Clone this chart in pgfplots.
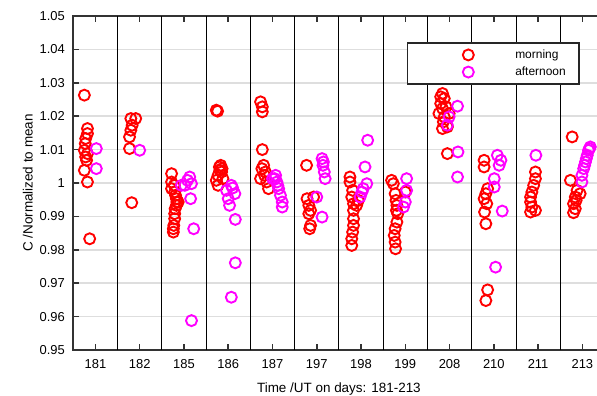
\documentclass[border=0pt]{standalone}
\usepackage{pgfplots}
\pgfplotsset{compat=1.18}
\usepackage{fontspec}
\setmainfont{Liberation Sans}
\definecolor{mred}{RGB}{255,0,0}
\definecolor{mmag}{RGB}{255,0,255}
\begin{document}
\begin{tikzpicture}
\begin{axis}[
  name=ax,
  scale only axis,
  width=531.2bp, height=334bp,
  xmin=-0.5, xmax=11.5,
  ymin=0.95, ymax=1.05,
  xtick={0,1,2,3,4,5,6,7,8,9,10,11},
  xticklabels={181,182,185,186,187,197,198,199,208,210,211,213},
  ytick={0.95,0.96,0.97,0.98,0.99,1,1.01,1.02,1.03,1.04,1.05},
  yticklabels={0.95,0.96,0.97,0.98,0.99,1,1.01,1.02,1.03,1.04,1.05},
  ytick pos=left,
  tick align=inside,
  major tick length=6bp,
  tick style={black!80, line width=1.6bp},
  axis line style={black!80, line width=1.8bp},
  ymajorgrids,
  major grid style={black!13, line width=1.6bp},
  extra x ticks={0.5,1.5,2.5,3.5,4.5,5.5,6.5,7.5,8.5,9.5,10.5},
  extra x tick labels={},
  extra x tick style={grid=major, major tick length=0pt, major grid style={black, line width=0.9bp}},
  tick label style={font=\fontsize{13}{15}\selectfont},
  xticklabel style={yshift=-6bp},
  yticklabel style={xshift=-5bp},
  label style={font=\fontsize{13.5}{16}\selectfont},
  xlabel={Time /UT on days: 181-213},
  xlabel style={yshift=-7bp},
  ylabel={C /Normalized to mean},
  legend style={at={(0.954,0.922)}, anchor=north east, draw=black!85, line width=1.6bp,
    font=\fontsize{12}{14}\selectfont, inner xsep=0pt, inner ysep=5bp, row sep=3bp},
  legend cell align=left,
  legend image code/.code={\path (-60bp,0) (44bp,0); \draw[#1] plot coordinates {(0bp,0bp)};},
  every axis plot/.append style={only marks, mark=o, mark size=5.5bp, line width=1.9bp, mark options={line width=1.9bp}},
]
\addplot[mred] coordinates {
(-0.25,1.0263) (-0.18,1.0163) (-0.18,1.0148) (-0.22,1.0133) (-0.23,1.0118) (-0.25,1.0098) (-0.18,1.0088) (-0.22,1.0078) (-0.2,1.0068) (-0.25,1.0038) (-0.18,1.0003) (-0.13,0.9833)
(0.80,1.0193) (0.91,1.0193) (0.83,1.0173) (0.80,1.0158) (0.77,1.0138) (0.77,1.0103) (0.82,0.9941)
(1.72,1.0028) (1.72,1.0003) (1.78,0.9993) (1.79,0.9973) (1.83,0.9953) (1.83,0.9933) (1.79,0.9908) (1.79,0.9893) (1.77,0.9873) (1.76,0.9853) (1.87,0.9943) (1.72,0.9983) (1.81,0.9963) (1.84,0.9943) (1.80,0.9923) (1.76,0.9863)
(2.73,1.0218) (2.76,1.0215) (2.83,1.0053) (2.81,1.0038) (2.77,1.0023) (2.73,1.0008) (2.77,0.9993) (2.85,1.0033) (2.88,1.0013) (2.80,1.0048) (2.86,1.0043)
(3.73,1.0243) (3.77,1.0228) (3.77,1.0213) (3.77,1.0100) (3.80,1.0053) (3.73,1.0013) (3.84,1.0033) (3.91,0.9983) (3.76,1.0043) (3.82,1.0023) (3.87,1.0003)
(4.77,1.0053) (4.78,0.9953) (4.82,0.9933) (4.86,0.9918) (4.82,0.9908) (4.86,0.9873) (4.93,0.9958) (4.84,0.9863)
(5.75,1.0018) (5.75,1.0003) (5.79,0.9958) (5.83,0.9938) (5.83,0.9918) (5.83,0.9893) (5.83,0.9873) (5.81,0.9853) (5.79,0.9833) (5.79,0.9813) (5.90,0.9933) (5.94,0.9948) (5.81,0.9978)
(6.69,1.0008) (6.73,0.9998) (6.77,0.9968) (6.81,0.9933) (6.83,0.9908) (6.81,0.9883) (6.77,0.9863) (6.75,0.9843) (6.77,0.9823) (6.78,0.9803) (7.00,0.9973) (6.79,0.9948) (6.80,0.9918)
(7.84,1.0268) (7.88,1.0253) (7.80,1.0238) (7.84,1.0223) (7.76,1.0208) (7.88,1.0198) (7.99,1.0208) (7.84,1.0163) (7.95,1.0168) (7.95,1.0088) (7.80,1.0258) (7.92,1.0228) (7.86,1.0183)
(8.78,1.0068) (8.78,1.0048) (8.86,0.9983) (8.82,0.9968) (8.78,0.9953) (8.79,0.9913) (8.82,0.9878) (8.86,0.9680) (8.82,0.9648) (8.84,0.9938)
(9.94,1.0033) (9.94,1.0013) (9.90,0.9993) (9.86,0.9973) (9.83,0.9958) (9.83,0.9943) (9.86,0.9928) (9.83,0.9913) (9.94,0.9918)
(10.77,1.0138) (10.73,1.0008) (10.88,0.9978) (10.84,0.9958) (10.80,0.9938) (10.84,0.9923) (10.80,0.9911) (10.95,0.9968) (10.86,0.9948)
};
\addlegendentry{\makebox[62bp][l]{morning}}
\addplot[mmag] coordinates {
(0.02,1.0103) (0.02,1.0043)
(1.00,1.0098)
(2.13,1.0018) (2.02,0.9993) (2.17,0.9998) (1.94,0.9993) (2.15,0.9953) (2.22,0.9863) (2.17,0.9588) (2.08,1.0008)
(3.07,0.9993) (2.96,0.9978) (3.15,0.9968) (3.00,0.9953) (3.03,0.9933) (3.16,0.9891) (3.16,0.9761) (3.07,0.9658) (3.10,0.9985)
(4.07,1.0023) (4.10,1.0003) (4.14,0.9983) (4.18,0.9963) (4.22,0.9943) (4.22,0.9928) (4.00,1.0013) (4.05,1.0013) (4.12,0.9993)
(5.12,1.0073) (5.14,1.0053) (5.17,1.0033) (5.19,1.0013) (5.00,0.9958) (5.12,0.9898) (5.15,1.0063)
(6.15,1.0128) (6.09,1.0048) (6.13,0.9998) (6.05,0.9983) (5.98,0.9958) (6.02,0.9973)
(7.03,1.0013) (7.03,0.9978) (6.96,0.9928) (7.00,0.9943)
(8.18,1.0230) (7.99,1.0198) (7.95,1.0173) (8.19,1.0093) (8.18,1.0018)
(9.08,1.0083) (9.16,1.0068) (9.12,1.0053) (9.01,1.0013) (9.01,0.9988) (9.19,0.9916) (9.04,0.9748)
(9.95,1.0083)
(11.14,1.0098) (11.11,1.0083) (11.07,1.0063) (11.03,1.0043) (10.99,1.0023) (10.99,1.0003) (11.18,1.0108) (11.16,1.0103) (11.09,1.0073) (11.05,1.0053)
};
\addlegendentry{\makebox[62bp][l]{afternoon}}
\end{axis}
\pgfresetboundingbox
\path[use as bounding box] ([shift={(-73.3bp,-46bp)}]ax.south west) rectangle ([shift={(-7.5bp,16bp)}]ax.north east);
\end{tikzpicture}
\end{document}
